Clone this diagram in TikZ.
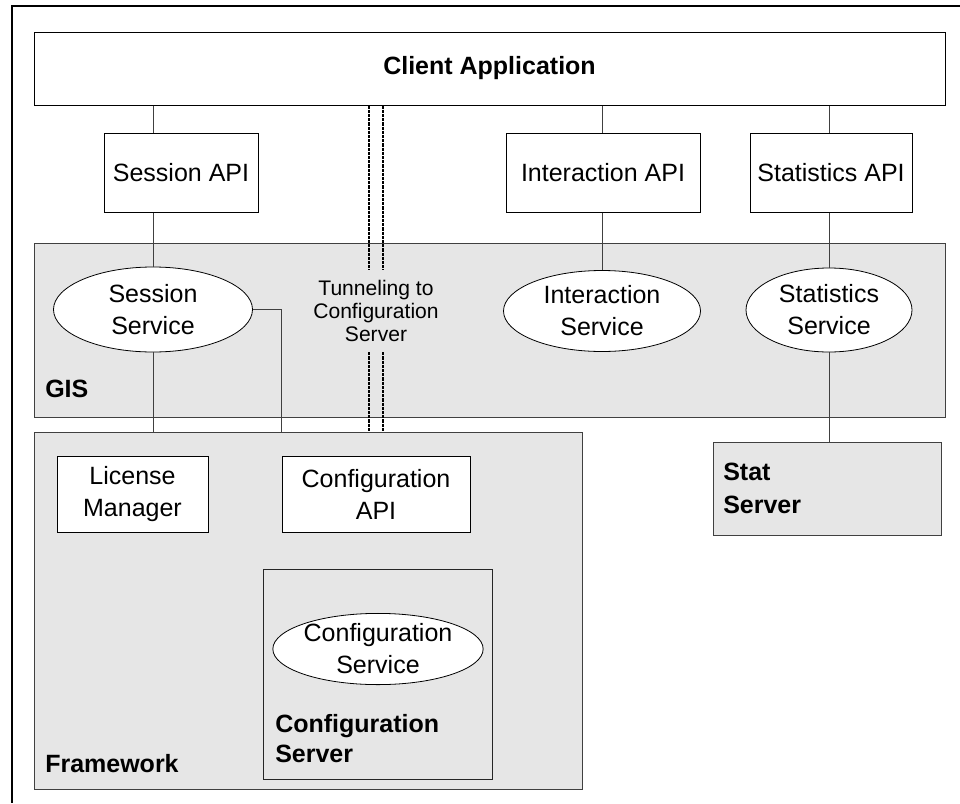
\documentclass[tikz,border=0pt]{standalone}
\usepackage{fontspec}
\setmainfont{Liberation Sans}
\usetikzlibrary{shapes.geometric}
\newcommand{\mainf}{\fontsize{18.75pt}{24pt}\selectfont}
\newcommand{\tunf}{\fontsize{15.8pt}{17pt}\selectfont}
\definecolor{panelgray}{HTML}{E6E6E6}
\definecolor{conngray}{HTML}{404040}
\begin{document}
\begin{tikzpicture}[x=0.75pt,y=-0.75pt,
  wbox/.style={rectangle, draw=black, fill=white, line width=0.75pt, inner sep=0pt, align=center, font=\mainf},
  panel/.style={rectangle, draw=black!75, fill=panelgray, line width=0.75pt, inner sep=0pt},
  ell/.style={ellipse, draw=black, fill=white, line width=0.6pt, inner sep=0pt, align=center, font=\mainf},
  lab/.style={anchor=base west, inner sep=0pt, font=\mainf\bfseries},
  conn/.style={draw=conngray, line width=0.75pt},
  tunnel/.style={draw=black, line width=1.2pt, dash pattern=on 2.4pt off 0.75pt},
  frame/.style={draw=black, line width=0.9pt}]
\useasboundingbox (0,0) rectangle (960,803);
% outer frame
\coordinate (ftl) at (12,6);
\coordinate (ftr) at (960,6);
\coordinate (fbl) at (12,803);
\draw[frame] (ftr) -- (ftl) -- (fbl);
% panels
\node[panel, minimum width=911*0.75pt, minimum height=174*0.75pt] (gis) at (489.5,330) {};
\node[panel, minimum width=548*0.75pt, minimum height=357*0.75pt] (fw) at (308,610.5) {};
\node[panel, minimum width=228*0.75pt, minimum height=93*0.75pt] (statsrv) at (827,488.5) {};
\node[panel, draw=black!85, minimum width=229*0.75pt, minimum height=210*0.75pt] (csrv) at (377.5,674) {};
% white boxes
\node[wbox, minimum width=911*0.75pt, minimum height=73*0.75pt] (client) at (489.5,68.5) {\bfseries Client Application};
\node[wbox, minimum width=154*0.75pt, minimum height=79*0.75pt] (sapi) at (181,172.5) {Session API};
\node[wbox, minimum width=194*0.75pt, minimum height=79*0.75pt] (iapi) at (603,172.5) {Interaction API};
\node[wbox, minimum width=162*0.75pt, minimum height=79*0.75pt] (stapi) at (831,172.5) {Statistics API};
\node[wbox, minimum width=151*0.75pt, minimum height=76*0.75pt] (lic) at (132.5,494) {License\\Manager};
\node[wbox, minimum width=188*0.75pt, minimum height=76*0.75pt] (capi) at (376,494) {Configuration\\API};
% ellipses
\node[ell, minimum width=199*0.75pt, minimum height=85*0.75pt] (sserv) at (153,309.5) {Session\\Service};
\node[ell, minimum width=197*0.75pt, minimum height=81*0.75pt] (iserv) at (602,311) {Interaction\\Service};
\node[ell, minimum width=166*0.75pt, minimum height=84*0.75pt] (stserv) at (829,310) {Statistics\\Service};
\node[ell, minimum width=198*0.75pt, minimum height=64*0.75pt] (cserv) at (378,649) {Configuration\\Service};
% labels
\node[lab] (gislab) at (45,397) {GIS};
\node[lab] (fwlab) at (45,772) {Framework};
\node[lab] (cs1) at (275,732) {Configuration};
\node[lab] (cs2) at (275,762) {Server};
\node[lab] (ss1) at (723,480) {Stat};
\node[lab] (ss2) at (723,513) {Server};
% connectors
\draw[conn] (sserv.north |- client.south) -- (sserv.north |- sapi.north);
\draw[conn] (sserv.north |- sapi.south) -- (sserv.north);
\draw[conn] (sserv.south) -- (sserv.south |- fw.north);
\draw[conn] (sserv.east) -| (capi.west |- fw.north);
\draw[conn] (iserv.north |- client.south) -- (iserv.north |- iapi.north);
\draw[conn] (iserv.north |- iapi.south) -- (iserv.north);
\draw[conn] (stserv.north |- client.south) -- (stserv.north |- stapi.north);
\draw[conn] (stserv.north |- stapi.south) -- (stserv.north);
\draw[conn] (stserv.south) -- (stserv.south |- statsrv.north);
% tunnel
\node[font=\tunf, align=center, inner sep=0pt, minimum height=82*0.75pt] (tun) at (376,311) {Tunneling to\\Configuration\\Server};
\coordinate (tl) at (369,0);
\coordinate (tr) at (383,0);
\draw[tunnel] (tl |- client.south) -- (tl |- tun.north);
\draw[tunnel] (tr |- client.south) -- (tr |- tun.north);
\draw[tunnel] (tl |- tun.south) -- (tl |- fw.north);
\draw[tunnel] (tr |- tun.south) -- (tr |- fw.north);
\end{tikzpicture}
\end{document}
